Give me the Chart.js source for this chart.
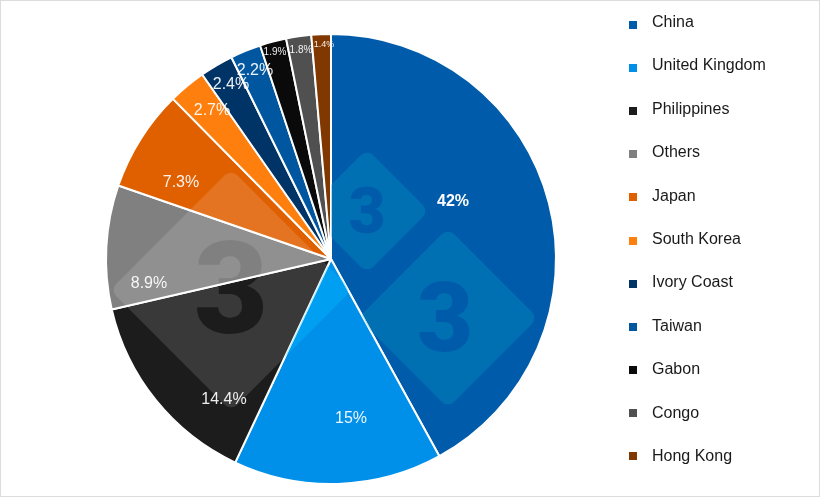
<!DOCTYPE html>
<html>
<head>
<meta charset="utf-8">
<title>Pie chart</title>
<script src="https://cdn.jsdelivr.net/npm/chart.js@4/dist/chart.umd.min.js"></script>
<style>
    html, body { margin: 0; padding: 0; background: #fff; }
    #marco { position: relative; width: 820px; height: 497px; overflow: hidden; }
    #marco::after { content: ''; position: absolute; inset: 0; border: 1px solid #dcdcdc; pointer-events: none; }
    #grafico { position: absolute; left: 0; top: 0; }
    #leyenda { position: absolute; left: 629px; top: 0; margin: 0; padding: 0; list-style: none;
               font: 16px "Liberation Sans", Arial, sans-serif; color: #1a1a1a; }
    #leyenda li { position: absolute; white-space: nowrap; line-height: 18px; padding-left: 23px; }
    #leyenda i { position: absolute; left: 0; width: 8px; height: 8px; }
</style>
</head>
<body>
<div id="marco">
    <canvas id="grafico" width="820" height="497"></canvas>
    <ul id="leyenda"></ul>
</div>
<script>
const paises  = ['China', 'United Kingdom', 'Philippines', 'Others', 'Japan', 'South Korea', 'Ivory Coast', 'Taiwan', 'Gabon', 'Congo', 'Hong Kong'];
const valores = [42, 15, 14.4, 8.9, 7.3, 2.7, 2.4, 2.2, 1.9, 1.8, 1.4];
const textos  = ['42%', '15%', '14.4%', '8.9%', '7.3%', '2.7%', '2.4%', '2.2%', '1.9%', '1.8%', '1.4%'];
const colores = ['#005cab', '#0090ea', '#1c1c1c', '#808080', '#e06000', '#ff7f0e', '#003366', '#0057a0', '#0a0a0a', '#505050', '#803800'];

// label placement, relative to the pie centre
const desplazar = [[122, -57], [20, 160], [-107, 141], [-182, 25], [-150, -76], [-119, -148], [-100, -174], [-76, -188], [-56, -207], [-30, -209], [-7, -214]];
const tamanos   = [16, 16, 16, 16, 16, 16, 16, 16, 10, 10, 9];

// watermark: diamond x, y, half diagonal, "3" x, y, font size, colour, first and last slice it shows on
const marcas = [
    [231, 290, 121, 231, 290, 128, 'rgba(255,255,255,0.13)', 2, 10],
    [231, 290, 121, 231, 290, 128, 'rgba(0,190,255,0.35)', 1, 1],
    [367, 211, 62, 367, 212, 64, 'rgba(0,160,200,0.30)', 0, 0],
    [448, 318, 90, 445, 319, 97, 'rgba(0,160,200,0.30)', 0, 0]
];

function rombo(c, x, y, m, r) {
    c.beginPath();
    c.moveTo(x, y - m);
    c.arcTo(x + m, y, x, y + m, r);
    c.arcTo(x, y + m, x - m, y, r);
    c.arcTo(x - m, y, x, y - m, r);
    c.arcTo(x, y - m, x + m, y, r);
    c.closePath();
}

const marcaAgua = {
    id: 'marcaAgua',
    afterDatasetsDraw(chart) {
        const arcos = chart.getDatasetMeta(0).data;
        const ctx = chart.ctx;
        marcas.forEach(function (m) {
            // the "3" is a hole in the diamond, so the slice shows through it
            const capa = document.createElement('canvas');
            capa.width = chart.width;
            capa.height = chart.height;
            const c = capa.getContext('2d');
            c.fillStyle = m[6];
            rombo(c, m[0], m[1], m[2], 9);
            c.fill();
            c.globalCompositeOperation = 'destination-out';
            c.fillStyle = '#000';
            c.font = '900 ' + m[5] + 'px Roboto, sans-serif';
            c.textAlign = 'center';
            c.textBaseline = 'middle';
            c.fillText('3', m[3], m[4] + m[5] * 0.085);

            const desde = arcos[m[7]], hasta = arcos[m[8]];
            ctx.save();
            ctx.beginPath();
            ctx.moveTo(desde.x, desde.y);
            ctx.arc(desde.x, desde.y, desde.outerRadius, desde.startAngle, hasta.endAngle);
            ctx.closePath();
            ctx.clip();
            ctx.drawImage(capa, 0, 0);
            ctx.restore();
        });
    }
};

const etiquetas = {
    id: 'etiquetas',
    afterDraw(chart) {
        const arco = chart.getDatasetMeta(0).data[0];
        const ctx = chart.ctx;
        ctx.save();
        ctx.textAlign = 'center';
        ctx.textBaseline = 'middle';
        ctx.fillStyle = '#fff';
        textos.forEach(function (t, i) {
            ctx.font = (i === 0 ? 'bold ' : '') + tamanos[i] + 'px "Liberation Sans", Arial, sans-serif';
            ctx.globalAlpha = i === 0 ? 1 : 0.92;
            ctx.fillText(t, arco.x + desplazar[i][0], arco.y + desplazar[i][1]);
        });
        ctx.restore();
    }
};

// ── leyenda ──
const $leyenda = document.getElementById('leyenda');
paises.forEach(function (p, i) {
    const li = document.createElement('li');
    const arriba = 13 + i * 43.4;
    li.style.top = arriba + 'px';
    li.textContent = p;
    const cuadro = document.createElement('i');
    cuadro.style.background = colores[i];
    cuadro.style.top = (21 + i * 43.1 - arriba) + 'px';
    li.appendChild(cuadro);
    $leyenda.appendChild(li);
});

new Chart(document.getElementById('grafico'), {
    type: 'pie',
    data: {
        labels: paises,
        datasets: [{
            data: valores,
            backgroundColor: colores,
            borderColor: '#fff',
            borderWidth: 2
        }]
    },
    options: {
        responsive: false,
        animation: false,
        layout: { padding: { left: 105, right: 263, top: 33, bottom: 12 } },
        plugins: { legend: { display: false }, tooltip: { enabled: false } }
    },
    plugins: [marcaAgua, etiquetas]
});
</script>
</body>
</html>
